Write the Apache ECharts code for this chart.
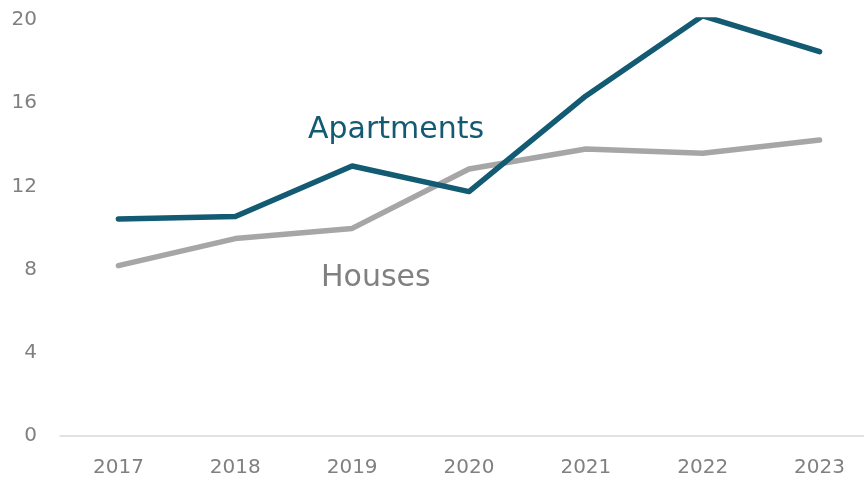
<!DOCTYPE html>
<html>
<head>
<meta charset="utf-8">
<script src="https://cdn.jsdelivr.net/npm/echarts@6/dist/echarts.min.js"></script>
<style>
  html, body { margin: 0; padding: 0; background: #fff; overflow: hidden; }
  #chart { width: 878px; height: 482px; }
</style>
</head>
<body>
<div id="chart"></div>
<script>
var years = ['2017', '2018', '2019', '2020', '2021', '2022', '2023'];
var apartments = [10.43, 10.55, 12.98, 11.75, 16.35, 20.2, 18.48];
var houses = [8.19, 9.49, 9.98, 12.84, 13.8, 13.59, 14.23];

// the plot runs a little past the right edge of the window, as in the original
var chart = echarts.init(document.getElementById('chart'));
chart.setOption({
    animation: false,
    grid: { left: 60, right: 0, top: 20, bottom: 46 },
    xAxis: {
        type: 'category',
        data: years,
        boundaryGap: true,
        axisLine: { lineStyle: { color: '#d9d9d9', width: 1.5 } },
        axisTick: { show: false },
        axisLabel: { color: '#808080', fontSize: 20, fontFamily: 'DejaVu Sans', margin: 22 }
    },
    yAxis: {
        type: 'value',
        min: 0,
        max: 20,
        interval: 4,
        splitLine: { show: false },
        axisLine: { show: false },
        axisTick: { show: false },
        axisLabel: { color: '#808080', fontSize: 20, fontFamily: 'DejaVu Sans', margin: 23 }
    },
    series: [
        {
            name: 'Houses',
            type: 'line',
            data: houses,
            symbol: 'none',
            lineStyle: { color: '#a6a6a6', width: 5.5, cap: 'round', join: 'round' }
        },
        {
            name: 'Apartments',
            type: 'line',
            data: apartments,
            symbol: 'none',
            lineStyle: { color: '#135a73', width: 5.5, cap: 'round', join: 'round' }
        }
    ],
    graphic: [
        {
            type: 'text', left: 308, top: 115,
            style: { text: 'Apartments', fill: '#135a73', fontSize: 30, fontFamily: 'DejaVu Sans' }
        },
        {
            type: 'text', left: 321, top: 263,
            style: { text: 'Houses', fill: '#808080', fontSize: 30, fontFamily: 'DejaVu Sans' }
        }
    ]
});
</script>
</body>
</html>
